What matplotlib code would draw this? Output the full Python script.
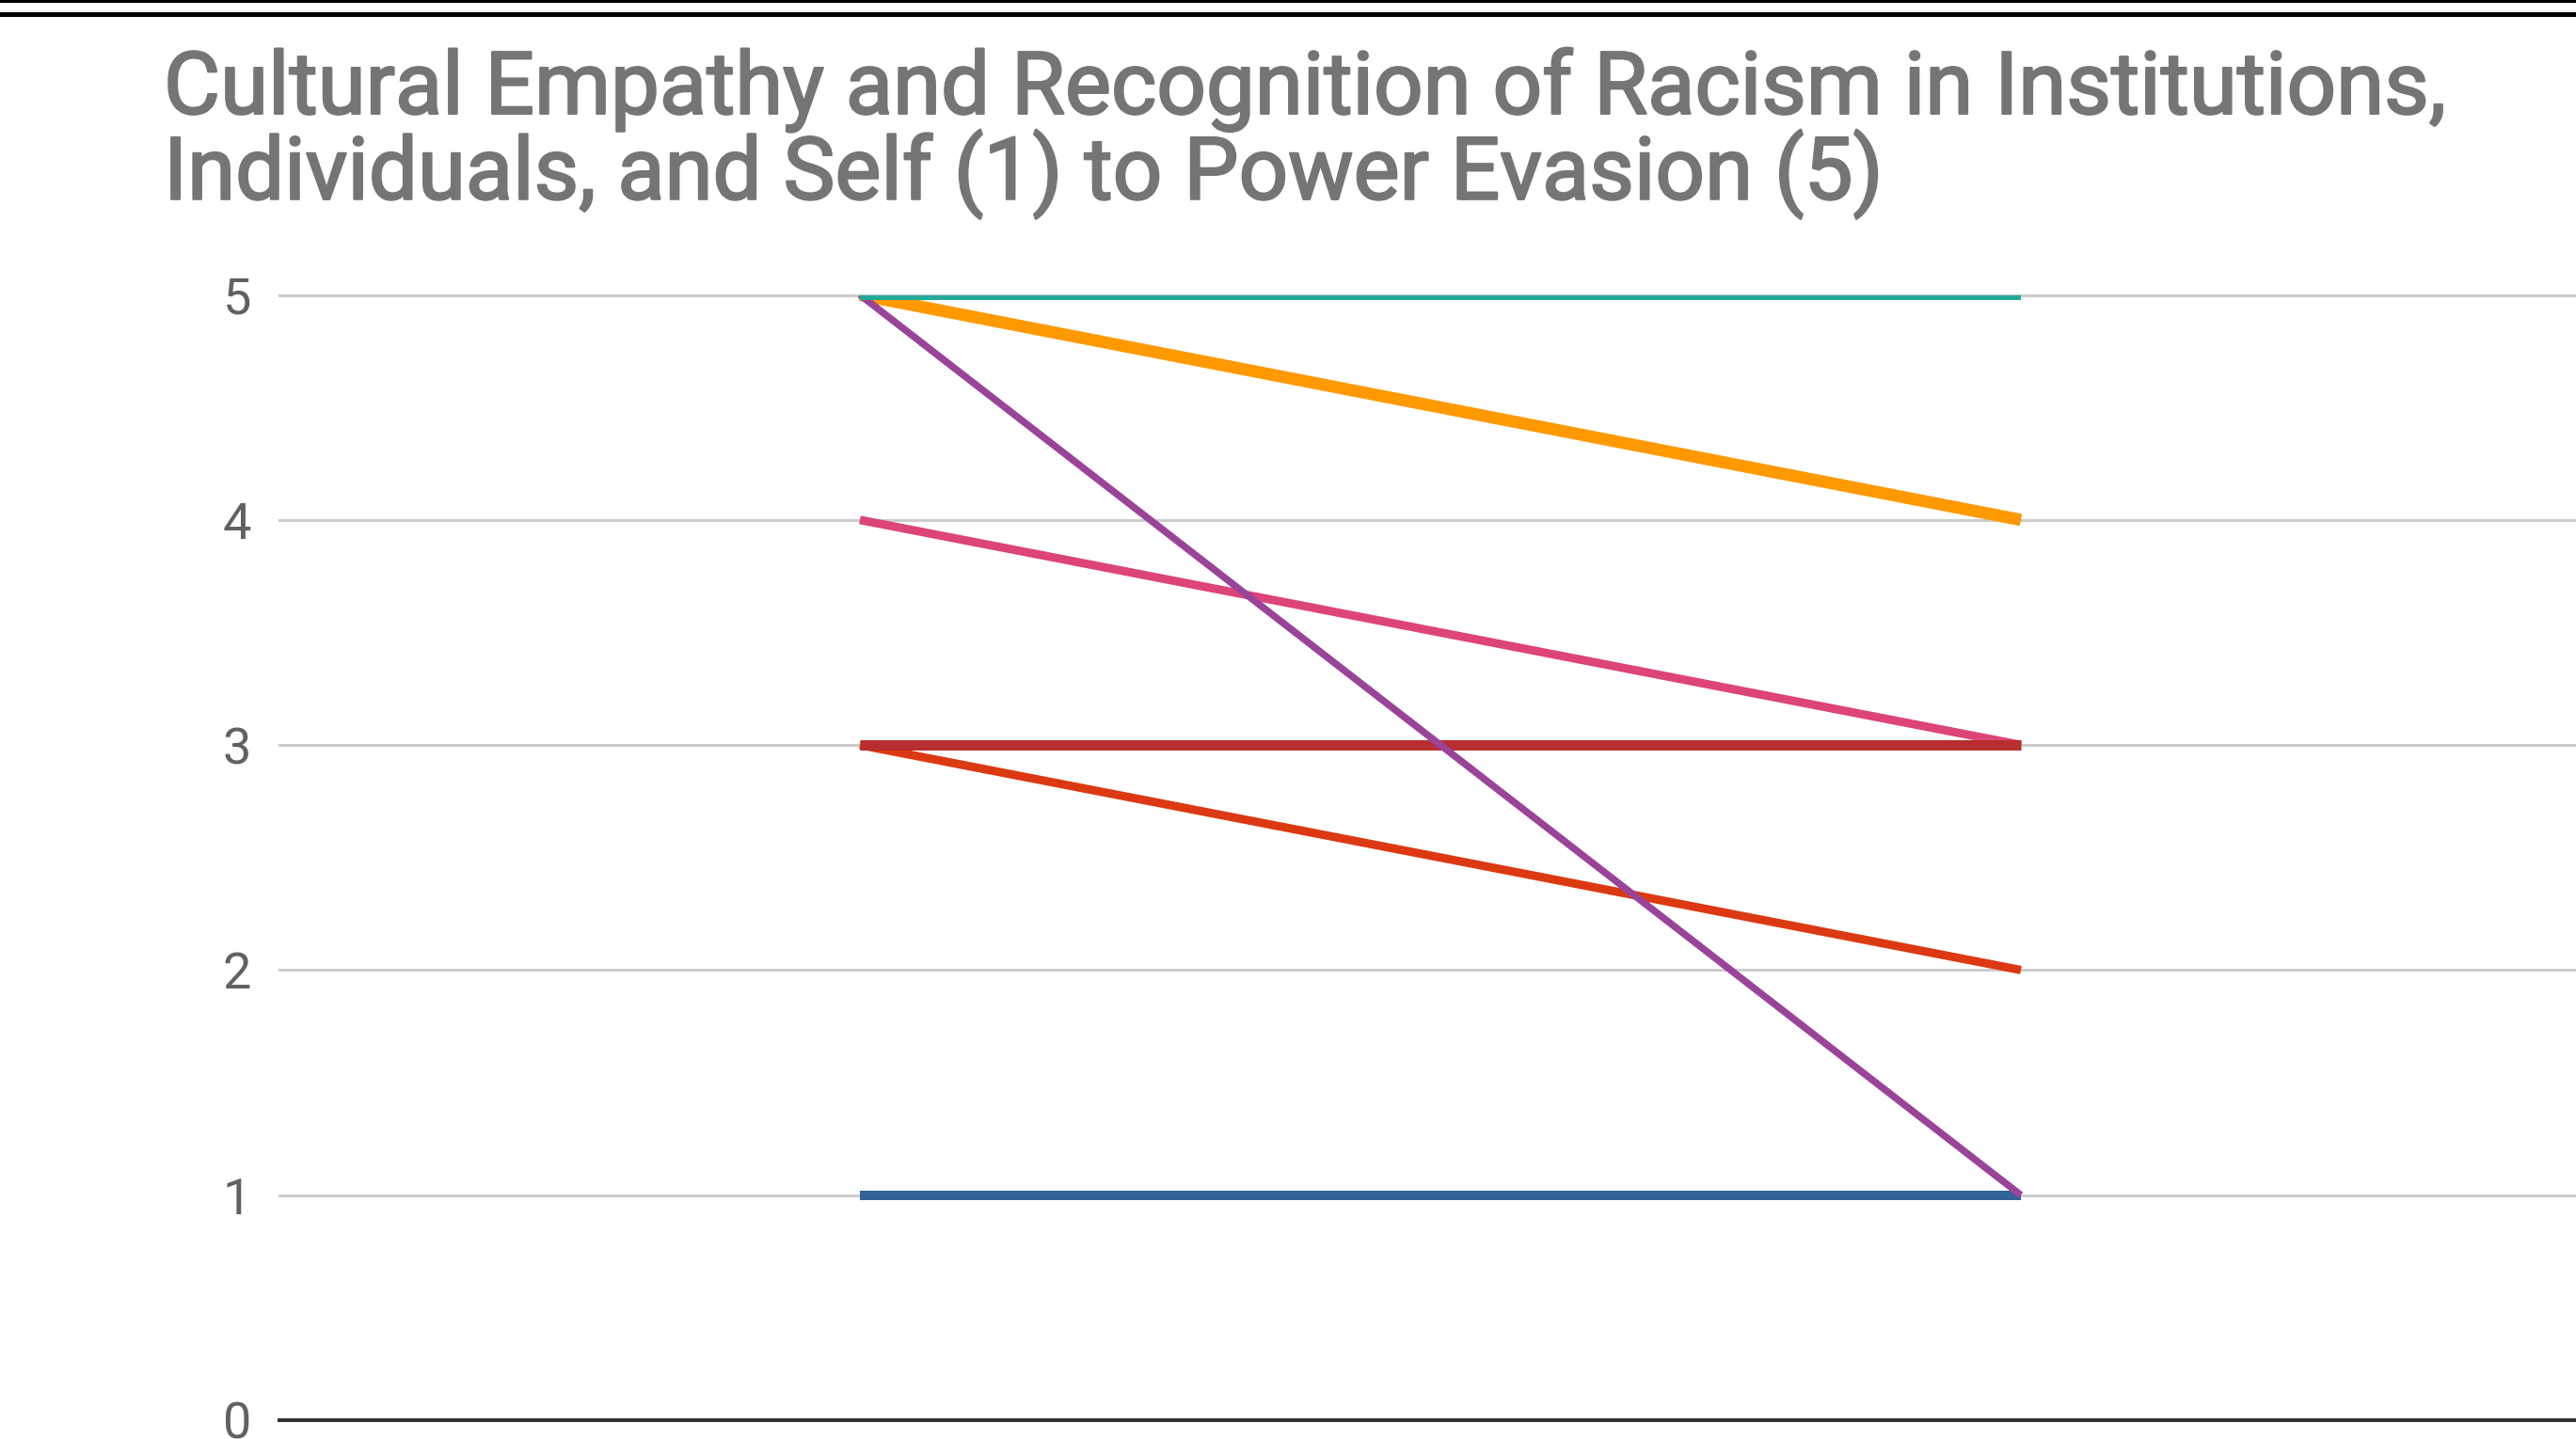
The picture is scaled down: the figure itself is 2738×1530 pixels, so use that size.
import matplotlib
matplotlib.use("Agg")
import matplotlib.pyplot as plt
from matplotlib.patches import Rectangle
import matplotlib.patheffects as pe

plt.rcParams['font.family'] = ['Roboto', 'DejaVu Sans']

# ---- data ----
title = ("Cultural Empathy and Recognition of Racism in Institutions,\n"
         "Individuals, and Self (1) to Power Evasion (5)")
categories = ["Before", "After"]
series_names = ["S2", "S3", "S7", "S9", "S10", "S11", "S12"]
series_values = [
    [3, 2],   # red-orange
    [5, 4],   # orange
    [4, 3],   # pink
    [3, 3],   # dark red
    [1, 1],   # blue
    [5, 1],   # purple
    [5, 5],   # teal
]
series_colors = ["#dc3912", "#ff9900", "#dd4477", "#b82e2e", "#316395", "#994499", "#22aa99"]
series_widths_px = [9, 13, 9, 11, 10, 7.5, 10]
y_ticks = [0, 1, 2, 3, 4, 5]

W, H, DPI = 2738, 1530, 100
fig = plt.figure(figsize=(W / DPI, H / DPI), dpi=DPI)
fig.patch.set_facecolor("white")

px = 72.0 / DPI  # points per pixel

# top double rule
fig.add_artist(Rectangle((0, 1 - 3 / H), 1, 3 / H, transform=fig.transFigure,
                         facecolor="black", edgecolor="none"))
fig.add_artist(Rectangle((0, 1 - 18 / H), 1, 5.5 / H, transform=fig.transFigure,
                         facecolor="black", edgecolor="none"))

left = 297 / W
bottom = (H - 1510) / H
top = (H - 313.5) / H
ax = fig.add_axes([left, bottom, 1 - left, top - bottom])

x = list(range(len(categories)))
for vals, col, lw in zip(series_values, series_colors, series_widths_px):
    ax.plot(x, vals, color=col, lw=lw * px, solid_capstyle="butt",
            solid_joinstyle="round", zorder=3)

ax.set_ylim(0, 5)
# keep category spacing: half a step margin on the left, chart cut at right
ax.set_xlim(-0.5, -0.5 + (W - 297) / 1234.0)
ax.set_yticks(y_ticks)
ax.set_yticklabels([str(v) for v in y_ticks])
ax.set_xticks([])
ax.tick_params(axis="y", length=0, pad=30 * px, labelsize=39, labelcolor="#616161")
ax.grid(axis="y", color="#cccccc", lw=3 * px, zorder=1)
ax.set_axisbelow(True)
for gl in ax.get_ygridlines():
    gl.set_clip_on(False)
for s in ax.spines.values():
    s.set_visible(False)
ax.axhline(0, color="#333333", lw=4 * px, zorder=2, clip_on=False)

fig.text(174 / W, 1 - 50 / H, title, ha="left", va="top", fontsize=66.5,
         color="#757575", linespacing=0.95,
         path_effects=[pe.withStroke(linewidth=1.6, foreground="#757575")])

fig.savefig("out.png", dpi=DPI, facecolor="white")
